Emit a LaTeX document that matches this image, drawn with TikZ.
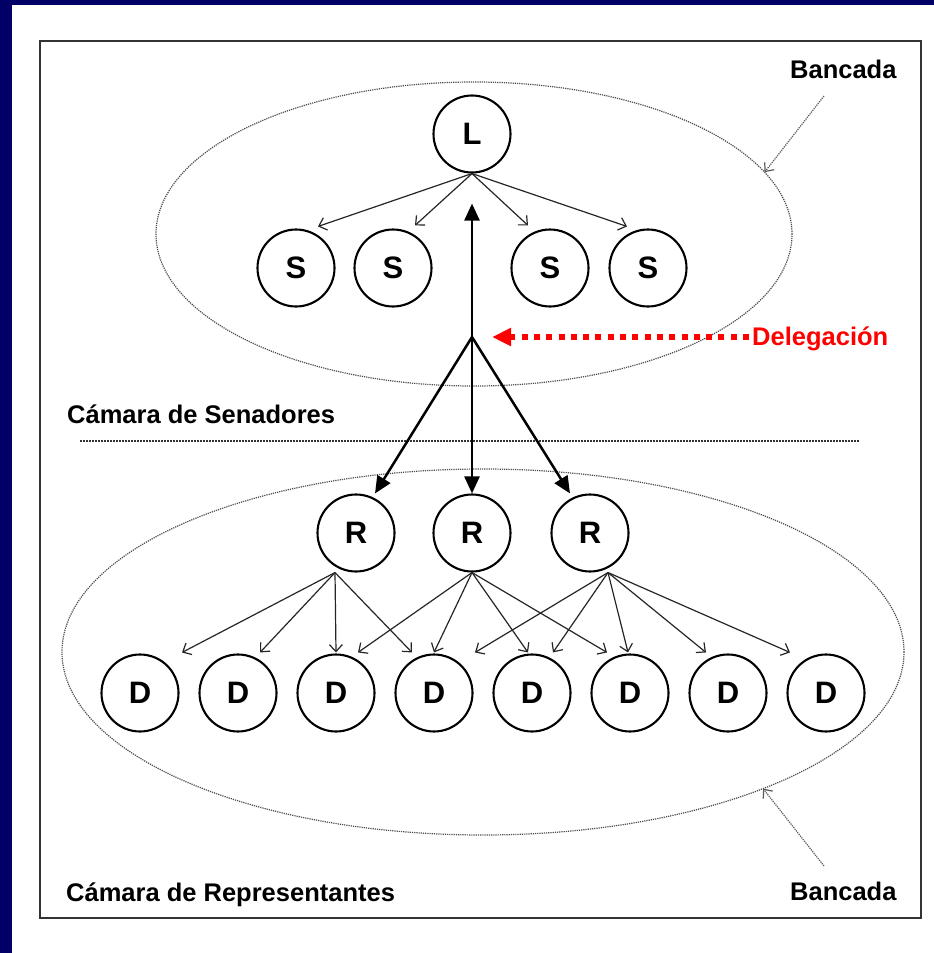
\documentclass[tikz,border=0pt]{standalone}
\usepackage{fontspec}
\setmainfont{Liberation Sans}
\usetikzlibrary{shapes.geometric,arrows.meta,calc}

\definecolor{navy}{HTML}{000066}
\definecolor{delred}{HTML}{FF0000}

\begin{document}
\begin{tikzpicture}[x=1pt,y=-1pt]

% Styles
\tikzset{
    member/.style={circle, draw, line width=2.1pt, minimum size=77pt, inner sep=0pt,
        font=\fontsize{31}{36}\selectfont\bfseries},
    lbl/.style={inner sep=0pt, anchor=base west, font=\fontsize{25.5}{30}\selectfont\bfseries},
    bancada/.style={ellipse, draw=black!70, densely dotted, line width=1.2pt, inner sep=0pt, outer sep=0pt},
    fan/.style={draw=black!85, line width=1.2pt, -{Straight Barb[length=7pt,width=13pt]}},
    chain/.style={line width=2.5pt, -{Triangle[length=17pt,width=15pt]}},
    pointer/.style={draw=black!65, densely dotted, line width=1.2pt, -{Straight Barb[length=7pt,width=12pt]}}
}

\useasboundingbox (0,0) rectangle (934,953);
\fill[navy] (0,0) rectangle (934,953);
\fill[white] (12,5) rectangle (934,953);
\draw[line width=1.4pt, black!80] (40,41) rectangle (921,918);

% Bancadas
\node[bancada, minimum width=636pt, minimum height=304pt] (SenEll) at (474,234) {};
\node[bancada, minimum width=842pt, minimum height=366pt] (RepEll) at (483,652) {};

% Senators
\node[member] (L) at (472,134) {L};
\node[member] (S1) at (296,268) {S};
\node[member] (S2) at (393,268) {S};
\node[member] (S3) at (550,268) {S};
\node[member] (S4) at (648,268) {S};

% Representatives
\node[member] (R1) at (356,533) {R};
\node[member] (R2) at (472,533) {R};
\node[member] (R3) at (590,533) {R};

\node[member] (D1) at (140,693) {D};
\node[member] (D2) at (238,693) {D};
\node[member] (D3) at (336,693) {D};
\node[member] (D4) at (434,693) {D};
\node[member] (D5) at (532,693) {D};
\node[member] (D6) at (630,693) {D};
\node[member] (D7) at (728,693) {D};
\node[member] (D8) at (826,693) {D};

% Texts
\node[lbl] (BT) at (790,78) {Bancada};
\node[lbl] (BB) at (790,900) {Bancada};
\node[lbl] (CS) at (67,423) {Cámara de Senadores};
\node[lbl] (CR) at (66,901) {Cámara de Representantes};
\node[lbl, text=delred] (Del) at (752,345) {Delegación};

% Chamber divider
\draw[black!80, line width=1.5pt, dash pattern=on 1.5pt off 1.5pt] (80,441) -- (860,441);

% L -> S
\draw[fan] (L.south) -- ([xshift=22pt,yshift=2pt]S1.north);
\draw[fan] (L.south) -- ([xshift=22pt,yshift=3pt]S2.north);
\draw[fan] (L.south) -- ([xshift=-22pt,yshift=3pt]S3.north);
\draw[fan] (L.south) -- ([xshift=-21pt,yshift=2pt]S4.north);

% Delegation
\coordinate (J) at (472,337);
\draw[chain] (J) -- ([yshift=-30pt]L.south);
\draw[chain] (J) -- ([xshift=19pt]R1.north);
\draw[chain] (J) -- (R2.north);
\draw[chain] (J) -- ([xshift=-20pt]R3.north);
\draw[delred, line width=5.5pt, dash pattern=on 6pt off 6.3pt,
    -{Triangle[length=19pt,width=17pt]}] ([xshift=-3pt,yshift=8pt]Del.base west) -- ([xshift=20pt]J);

% R -> D
\coordinate (R1f) at ([xshift=-21pt]R1.south);
\draw[fan] (R1f) -- ([xshift=42pt,yshift=1pt]D1.north);
\draw[fan] (R1f) -- ([xshift=22pt,yshift=1pt]D2.north);
\draw[fan] (R1f) -- ([yshift=1pt]D3.north);
\draw[fan] (R1f) -- ([xshift=-22pt,yshift=1pt]D4.north);

\draw[fan] (R2.south) -- ([xshift=22pt,yshift=1pt]D3.north);
\draw[fan] (R2.south) -- ([yshift=1pt]D4.north);
\draw[fan] (R2.south) -- ([xshift=-4pt,yshift=1pt]D5.north);
\draw[fan] (R2.south) -- ([xshift=-23pt,yshift=1pt]D6.north);

\coordinate (R3f) at ([xshift=18pt]R3.south);
\draw[fan] (R3f) -- ([xshift=41pt,yshift=1pt]D4.north);
\draw[fan] (R3f) -- ([xshift=21pt,yshift=1pt]D5.north);
\draw[fan] (R3f) -- ([xshift=-2pt,yshift=1pt]D6.north);
\draw[fan] (R3f) -- ([xshift=-22pt,yshift=1pt]D7.north);
\draw[fan] (R3f) -- ([xshift=-36pt,yshift=1pt]D8.north);

% Bancada pointers
\coordinate (bt) at (824,96);
\draw[pointer] (bt) -- (SenEll.12);
\coordinate (bb) at (824,866);
\draw[pointer] (bb) -- (RepEll.-26);

\end{tikzpicture}
\end{document}
